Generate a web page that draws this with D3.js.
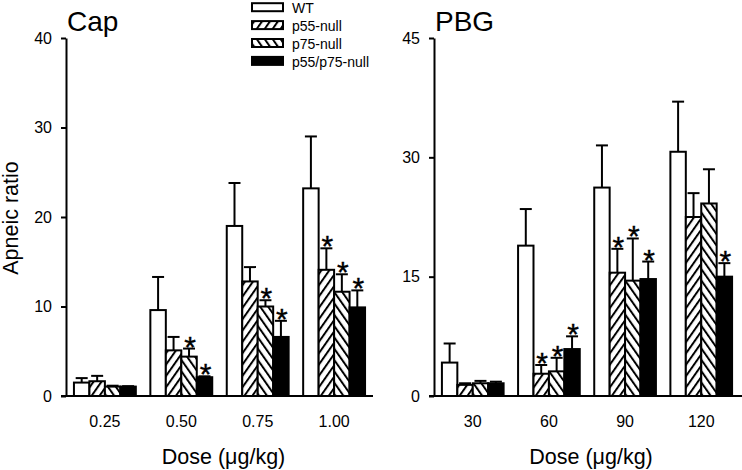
<!DOCTYPE html>
<html>
<head>
<meta charset="utf-8">
<script src="https://cdn.jsdelivr.net/npm/d3@7"></script>
<style>
  html, body { margin: 0; padding: 0; background: #fff; }
  svg { display: block; font-family: "Liberation Sans", Arial, sans-serif; }
</style>
</head>
<body>
<svg id="chart" width="742" height="470"></svg>
<script>
// ---------- data ----------
const seriesNames = ["WT", "p55-null", "p75-null", "p55/p75-null"];

const capDoses = ["0.25", "0.50", "0.75", "1.00"];
const capTicks = [0, 10, 20, 30, 40];
const capWT     = [1.5, 9.6, 19.0, 23.2];
const capWTErr  = [0.5, 3.7, 4.8, 5.8];
const capP55    = [1.65, 5.1, 12.8, 14.1];
const capP55Err = [0.6, 1.5, 1.6, 2.4];
const capP75    = [1.05, 4.4, 10.0, 11.65];
const capP75Err = [0.1, 0.9, 0.7, 1.95];
const capDKO    = [1.05, 2.1, 6.6, 9.9];
const capDKOErr = [0.05, 0.1, 1.8, 1.9];
const capStars  = [[0,0,0,0],[0,0,1,1],[0,0,1,1],[0,1,1,1]];

const pbgDoses = ["30", "60", "90", "120"];
const pbgTicks = [0, 15, 30, 45];
const pbgWT     = [4.2, 18.9, 26.2, 30.7];
const pbgWTErr  = [2.4, 4.6, 5.3, 6.3];
const pbgP55    = [1.4, 2.8, 15.5, 22.5];
const pbgP55Err = [0.2, 1.1, 3.0, 3.0];
const pbgP75    = [1.6, 3.1, 14.5, 24.2];
const pbgP75Err = [0.3, 1.7, 5.3, 4.3];
const pbgDKO    = [1.6, 5.9, 14.7, 15.0];
const pbgDKOErr = [0.2, 1.6, 2.2, 1.7];
const pbgStars  = [[0,0,0,0],[0,1,1,1],[0,1,1,1],[0,0,0,1]];

// ---------- setup ----------
const svg = d3.select("#chart");
const defs = svg.append("defs");
const FONT = "Liberation Sans, Arial, sans-serif";

function hatch(id, angle) {
  const p = defs.append("pattern")
    .attr("id", id)
    .attr("patternUnits", "userSpaceOnUse")
    .attr("width", 6.5).attr("height", 6.5)
    .attr("patternTransform", `rotate(${angle})`);
  p.append("rect").attr("width", 6.5).attr("height", 6.5).attr("fill", "#fff");
  p.append("line").attr("x1", 1).attr("y1", -1).attr("x2", 1).attr("y2", 8)
    .attr("stroke", "#000").attr("stroke-width", 2);
}
hatch("h55", 35);
hatch("h75", -35);
const fills = ["#fff", "url(#h55)", "url(#h75)", "#000"];

function panel(opts) {
  const { doses, ticks, ymax, means, errs, stars, x0, x1, axisStart, axisEnd, title } = opts;
  const g = svg.append("g");
  const yTop = 38, yBot = 396;

  const y = d3.scaleLinear().domain([0, ymax]).range([yBot, yTop]);
  const x = d3.scaleBand().domain(doses).range([x0, x1])
    .paddingInner(0.19).paddingOuter(0.104);
  const xs = d3.scaleBand().domain(seriesNames).range([0, x.bandwidth()]);

  // y axis
  const ya = g.append("g").attr("transform", `translate(${x0},0)`)
    .call(d3.axisLeft(y).tickValues(ticks).tickSize(5).tickPadding(9).tickSizeOuter(0));
  ya.select(".domain").attr("stroke-width", 2);
  ya.selectAll(".tick line").attr("stroke-width", 2);
  ya.selectAll("text").attr("font-size", 16).attr("fill", "#000").attr("font-family", FONT);

  // x axis labels
  const xa = g.append("g").attr("transform", `translate(0,${yBot})`)
    .call(d3.axisBottom(x).tickSize(0).tickPadding(20));
  xa.select(".domain").remove();
  xa.selectAll("text").attr("font-size", 16).attr("fill", "#000").attr("font-family", FONT);

  // bars
  doses.forEach((d, i) => {
    const gg = g.append("g").attr("transform", `translate(${x(d)},0)`);
    seriesNames.forEach((s, k) => {
      const v = means[k][i], e = errs[k][i];
      const bx = xs(s), bw = xs.bandwidth(), cx = bx + bw / 2;
      // error bar
      gg.append("line").attr("x1", cx).attr("x2", cx)
        .attr("y1", y(v)).attr("y2", y(v + e))
        .attr("stroke", "#000").attr("stroke-width", 2);
      gg.append("line").attr("x1", cx - 6).attr("x2", cx + 6)
        .attr("y1", y(v + e)).attr("y2", y(v + e))
        .attr("stroke", "#000").attr("stroke-width", 2);
      gg.append("rect").attr("x", bx).attr("width", bw)
        .attr("y", y(v)).attr("height", y(0) - y(v))
        .attr("fill", fills[k]).attr("stroke", "#000").attr("stroke-width", 2);
      if (stars[i][k]) {
        gg.append("text").attr("x", cx + 1).attr("y", y(v + e) + 8)
          .attr("text-anchor", "middle").attr("font-size", 30)
          .attr("stroke", "#000").attr("stroke-width", 0.4).text("*");
      }
    });
  });

  // x baseline
  g.append("line").attr("x1", axisStart).attr("x2", axisEnd)
    .attr("y1", yBot).attr("y2", yBot)
    .attr("stroke", "#000").attr("stroke-width", 2);

  // title
  g.append("text").attr("x", x0 + 1).attr("y", 31)
    .attr("font-size", 28).text(title);

  // x title
  g.append("text").attr("x", (x0 + x1) / 2 + 4).attr("y", 464)
    .attr("text-anchor", "middle").attr("font-size", 21.5).text("Dose (\u03bcg/kg)");
}

panel({
  doses: capDoses, ticks: capTicks, ymax: 40,
  means: [capWT, capP55, capP75, capDKO],
  errs: [capWTErr, capP55Err, capP75Err, capDKOErr],
  stars: capStars, x0: 66, x1: 373, axisStart: 61, axisEnd: 373, title: "Cap"
});
panel({
  doses: pbgDoses, ticks: pbgTicks, ymax: 45,
  means: [pbgWT, pbgP55, pbgP75, pbgDKO],
  errs: [pbgWTErr, pbgP55Err, pbgP75Err, pbgDKOErr],
  stars: pbgStars, x0: 434, x1: 740, axisStart: 429, axisEnd: 742, title: "PBG"
});

// y label
svg.append("text").attr("transform", "translate(18,218) rotate(-90)")
  .attr("text-anchor", "middle").attr("font-size", 21.5).text("Apneic ratio");

// legend
const lg = svg.append("g").attr("transform", "translate(252,0)");
seriesNames.forEach((s, k) => {
  const ty = 3.2 + k * 17.9;
  lg.append("rect").attr("x", 0).attr("y", ty).attr("width", 31).attr("height", 8)
    .attr("fill", fills[k]).attr("stroke", "#000").attr("stroke-width", 2);
  lg.append("text").attr("x", 40).attr("y", ty + 9.6)
    .attr("font-size", 14).text(s);
});
</script>
</body>
</html>
